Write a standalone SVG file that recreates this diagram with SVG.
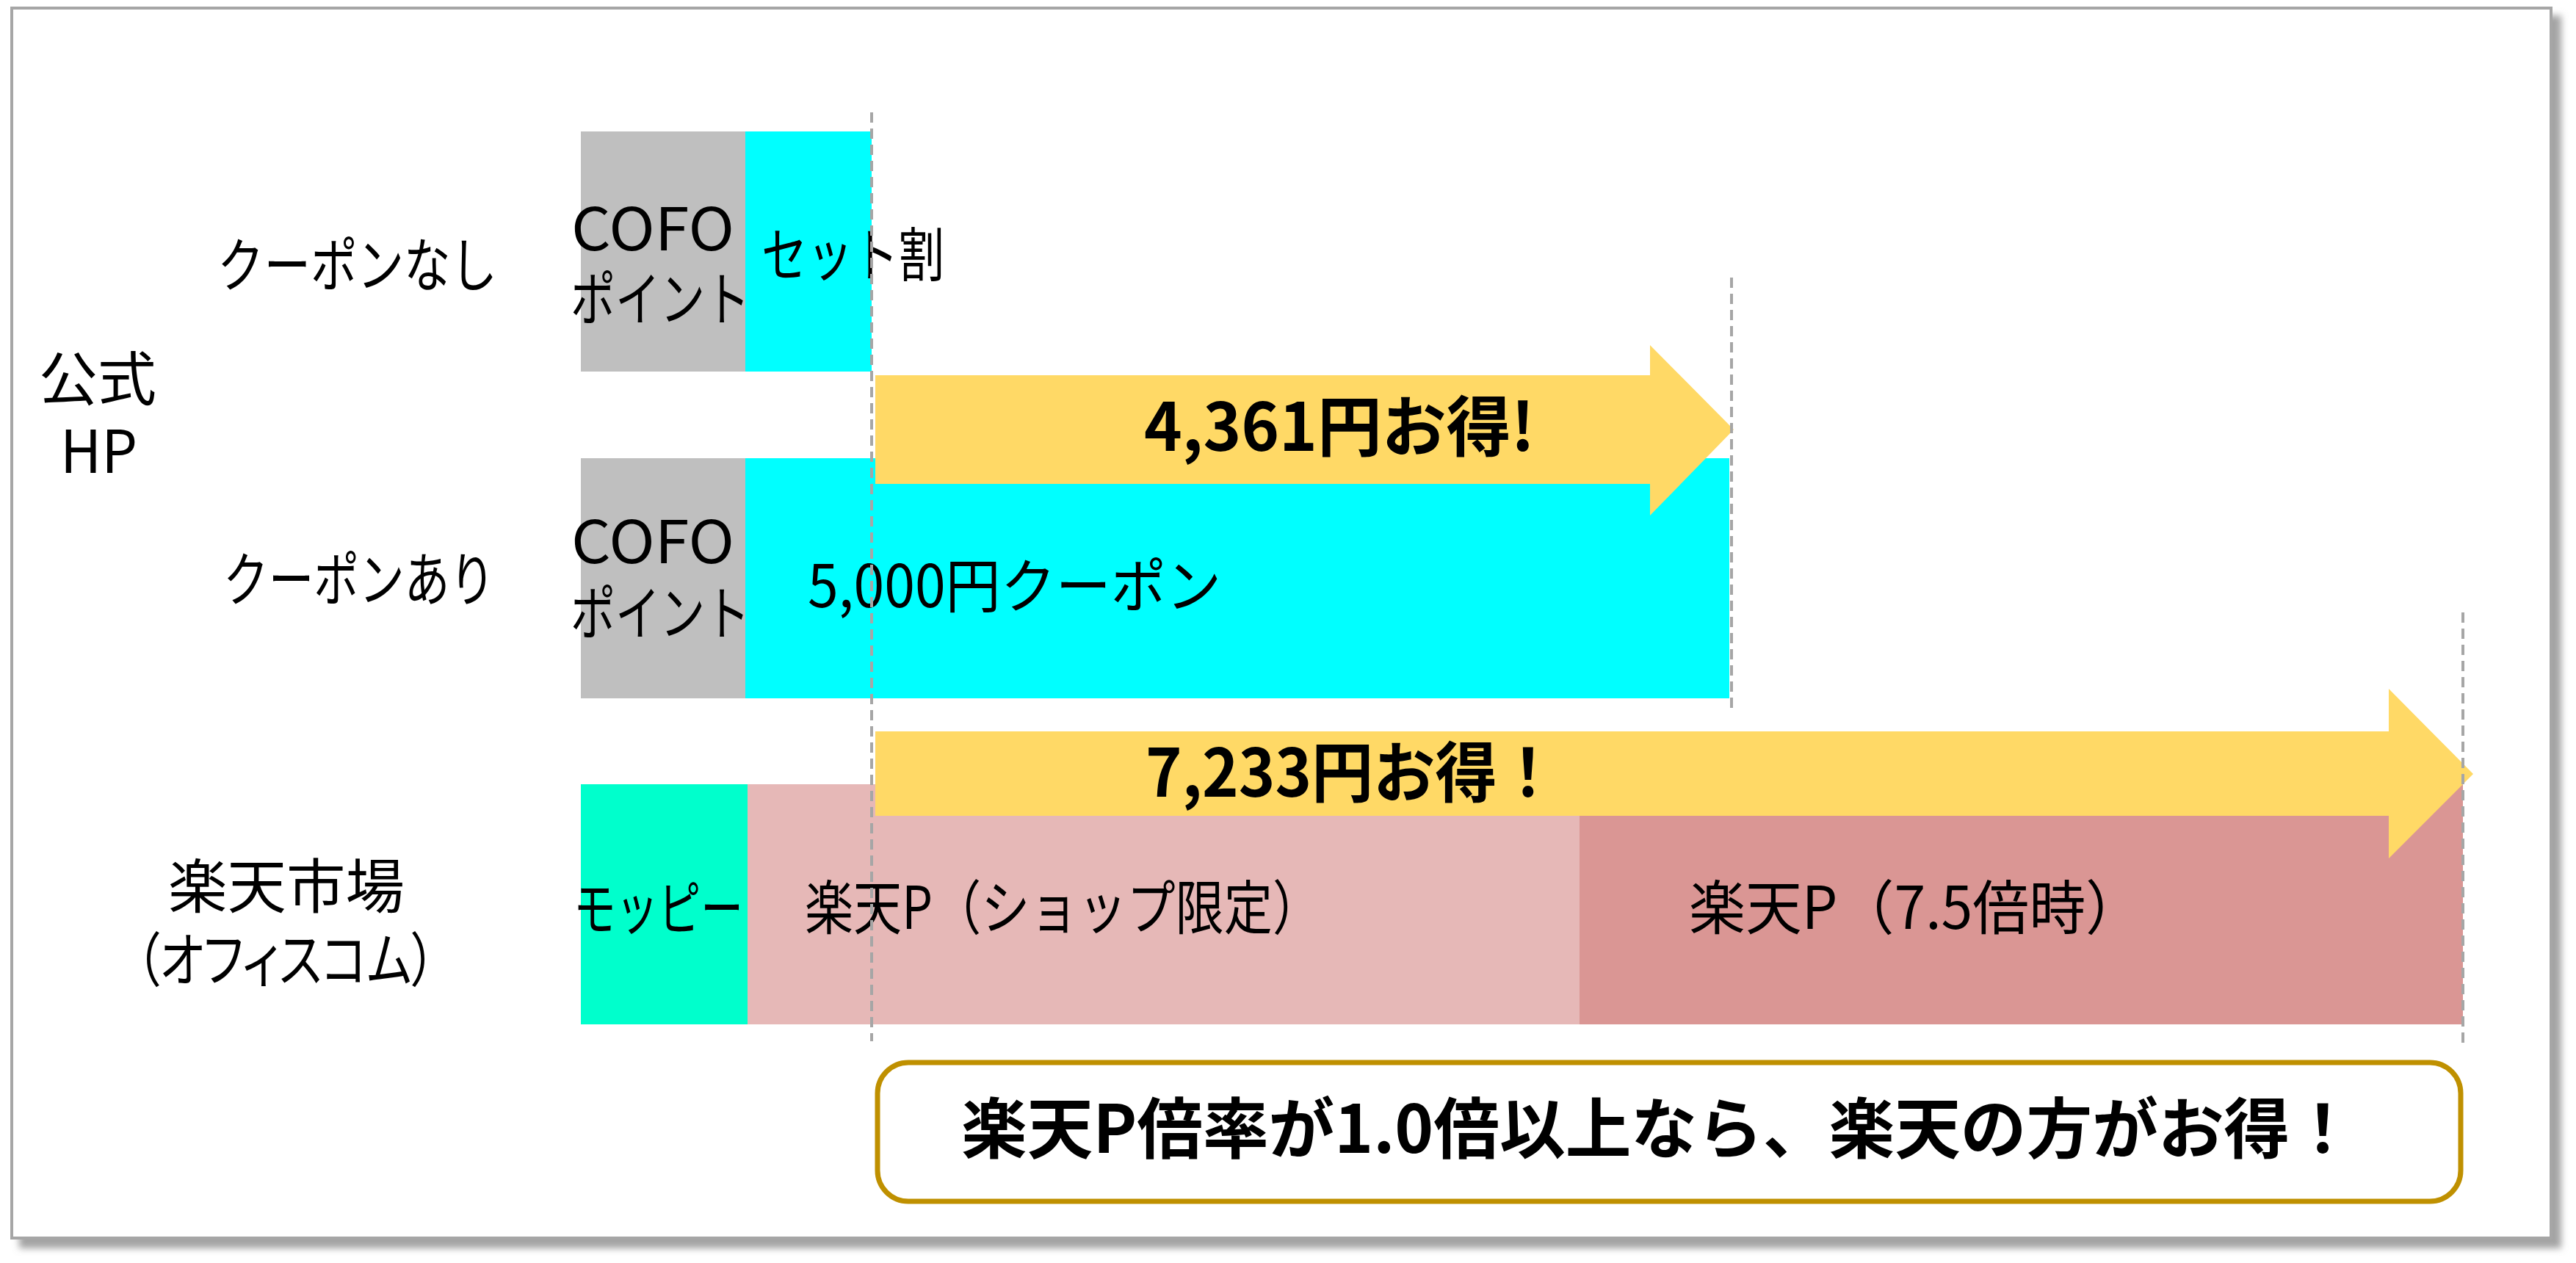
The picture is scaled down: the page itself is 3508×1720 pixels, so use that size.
<svg xmlns="http://www.w3.org/2000/svg" width="3508" height="1720" viewBox="0 0 3508 1720">
<defs>
<filter id="shadow" x="-5%" y="-5%" width="110%" height="110%">
<feDropShadow dx="12" dy="12" stdDeviation="5" flood-color="#8C8C8C" flood-opacity="0.8"/>
</filter>
<style>
.t{font-family:"Noto Sans CJK JP","Noto Sans",sans-serif;font-size:80px;fill:#000}
.p{font-feature-settings:"palt" 1}
.b{font-family:"Noto Sans CJK JP","Noto Sans",sans-serif;font-size:90px;font-weight:700;fill:#000}
.guide{stroke:#A6A6A6;stroke-width:4;stroke-dasharray:14 8;fill:none}
.arrow{fill:#FFD966}
</style>
</defs>
<rect x="0" y="0" width="3508" height="1720" fill="#FFFFFF"/>
<rect id="frame" x="16" y="11" width="3458" height="1675" fill="#FFFFFF" stroke="#A6A6A6" stroke-width="4" filter="url(#shadow)"/>

<g id="label-official">
<text class="t" x="53" y="545" textLength="160" lengthAdjust="spacingAndGlyphs">公式</text>
<text class="t" x="82" y="644" textLength="105" lengthAdjust="spacingAndGlyphs">HP</text>
</g>
<g id="label-nocoupon"><text class="t" x="296" y="390" textLength="381" lengthAdjust="spacingAndGlyphs">クーポンなし</text></g>
<g id="label-coupon"><text class="t" x="304" y="818" textLength="370" lengthAdjust="spacingAndGlyphs">クーポンあり</text></g>
<g id="label-rakuten">
<text class="t" x="229" y="1236" textLength="322" lengthAdjust="spacingAndGlyphs">楽天市場</text>
<text class="t p" x="185" y="1336" textLength="408" lengthAdjust="spacingAndGlyphs">（オフィスコム）</text>
</g>

<g id="cofo1">
<rect x="791" y="179" width="224" height="327" fill="#BFBFBF"/>
<text class="t" x="778" y="341" textLength="222" lengthAdjust="spacingAndGlyphs">COFO</text>
<text class="t" x="777" y="436" textLength="244" lengthAdjust="spacingAndGlyphs">ポイント</text>
</g>
<g id="set">
<rect x="1015" y="179" width="172" height="327" fill="#00FFFF"/>
<text class="t" x="1037" y="376" textLength="249" lengthAdjust="spacingAndGlyphs">セット割</text>
</g>

<g id="cofo2">
<rect x="791" y="624" width="224" height="327" fill="#BFBFBF"/>
<text class="t" x="778" y="767" textLength="222" lengthAdjust="spacingAndGlyphs">COFO</text>
<text class="t" x="777" y="864" textLength="244" lengthAdjust="spacingAndGlyphs">ポイント</text>
</g>
<g id="coupon">
<rect x="1015" y="624" width="1340" height="327" fill="#00FFFF"/>
<text class="t" x="1100" y="827" textLength="563" lengthAdjust="spacingAndGlyphs">5,000円クーポン</text>
</g>

<g id="moppy">
<rect x="791" y="1068" width="227" height="327" fill="#00FFCC"/>
<text class="t" x="781" y="1266" textLength="231" lengthAdjust="spacingAndGlyphs">モッピー</text>
</g>
<g id="rakuten-shop">
<rect x="1018" y="1068" width="1133" height="327" fill="#E6B8B7"/>
<text class="t" x="1096" y="1265" textLength="703" lengthAdjust="spacingAndGlyphs">楽天P（ショップ限定）</text>
</g>
<g id="rakuten-75">
<rect x="2151" y="1068" width="1203" height="327" fill="#DA9694"/>
<text class="t" x="2300" y="1265" textLength="617" lengthAdjust="spacingAndGlyphs">楽天P（7.5倍時）</text>
</g>

<g id="arrow-4361">
<polygon class="arrow" points="1192,511 2247,511 2247,470 2361,585 2247,702 2247,659 1192,659"/>
<text class="b" x="1558" y="614" textLength="532" lengthAdjust="spacingAndGlyphs">4,361円お得!</text>
</g>
<g id="arrow-7233">
<polygon class="arrow" points="1192,996 3253,996 3253,938 3368,1054 3253,1169 3253,1111 1192,1111"/>
<text class="b" x="1560" y="1085" textLength="563" lengthAdjust="spacingAndGlyphs">7,233円お得！</text>
</g>

<g id="connectors">
<line class="guide" x1="1187" y1="153" x2="1187" y2="1418"/>
<line class="guide" x1="2358" y1="378" x2="2358" y2="967"/>
<line class="guide" x1="3354" y1="834" x2="3354" y2="1425"/>
</g>

<g id="conclusion">
<rect x="1195" y="1447" width="2156" height="189" rx="42" ry="42" fill="#FFFFFF" stroke="#BF9000" stroke-width="7"/>
<text class="b" x="1309" y="1570" textLength="1899" lengthAdjust="spacingAndGlyphs">楽天P倍率が1.0倍以上なら、楽天の方がお得！</text>
</g>
</svg>
